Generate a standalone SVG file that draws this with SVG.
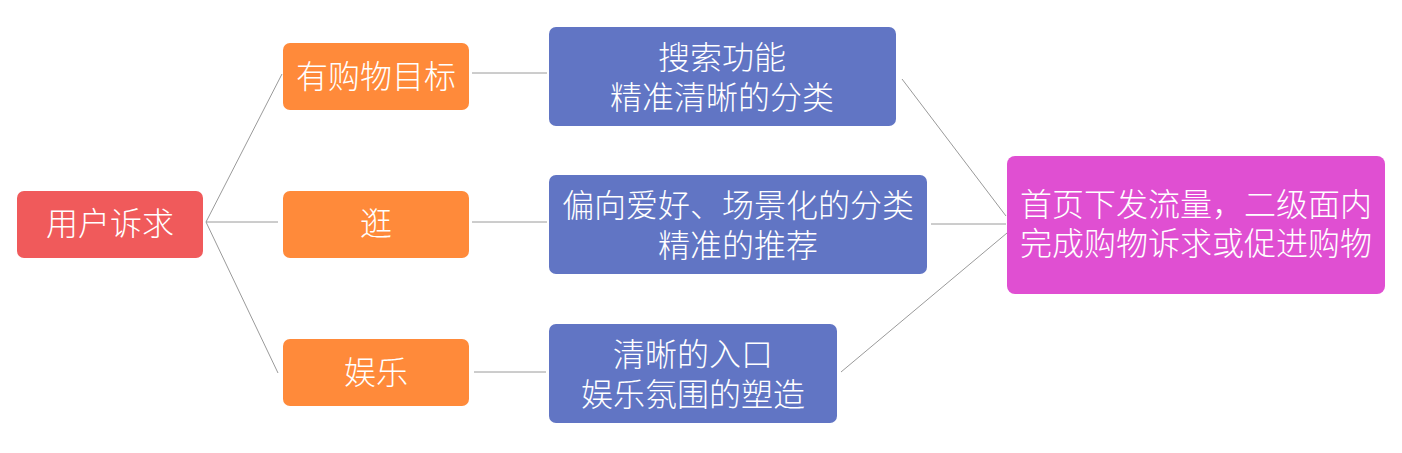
<svg xmlns="http://www.w3.org/2000/svg" width="1402" height="453" viewBox="0 0 1402 453">
<style>
.t{font-family:"Noto Sans CJK SC","Noto Sans",sans-serif;font-size:32px;font-weight:300;fill:#ffffff;text-anchor:middle}
.c{stroke:#9a9a9a;stroke-width:1;fill:none}
.root{fill:#F05A5B}
.or{fill:#FF8A3A}
.bl{fill:#6175C4}
.pk{fill:#E04FD2}
</style>
<rect width="1402" height="453" fill="#ffffff"/>
<g id="connectors">
<line class="c" x1="206" y1="222" x2="282" y2="74"/>
<line class="c" x1="206" y1="222" x2="278" y2="222"/>
<line class="c" x1="206" y1="222" x2="278" y2="373"/>
<line class="c" x1="472" y1="73" x2="547" y2="73"/>
<line class="c" x1="472" y1="222" x2="547" y2="222"/>
<line class="c" x1="474" y1="372" x2="546" y2="372"/>
<line class="c" x1="902" y1="79" x2="1006" y2="216"/>
<line class="c" x1="931" y1="224" x2="1006" y2="224"/>
<line class="c" x1="841" y1="372" x2="1007" y2="233"/>
</g>
<g id="root">
<rect class="root" x="17" y="191" width="186" height="67" rx="7"/>
<text class="t" x="110" y="235">用户诉求</text>
</g>
<g id="goal">
<rect class="or" x="283" y="43" width="186" height="67" rx="7"/>
<text class="t" x="376" y="88">有购物目标</text>
</g>
<g id="browse">
<rect class="or" x="283" y="191" width="186" height="67" rx="7"/>
<text class="t" x="376" y="235">逛</text>
</g>
<g id="fun">
<rect class="or" x="283" y="339" width="186" height="67" rx="7"/>
<text class="t" x="376" y="384">娱乐</text>
</g>
<g id="search">
<rect class="bl" x="549" y="27" width="347" height="99" rx="7"/>
<text class="t" x="722" y="69">搜索功能<tspan x="722" dy="40">精准清晰的分类</tspan></text>
</g>
<g id="recommend">
<rect class="bl" x="549" y="175" width="378" height="99" rx="7"/>
<text class="t" x="738" y="217">偏向爱好、场景化的分类<tspan x="738" dy="40">精准的推荐</tspan></text>
</g>
<g id="entertain">
<rect class="bl" x="549" y="324" width="288" height="99" rx="7"/>
<text class="t" x="693" y="366">清晰的入口<tspan x="693" dy="40">娱乐氛围的塑造</tspan></text>
</g>
<g id="result">
<rect class="pk" x="1007" y="156" width="378" height="138" rx="8"/>
<text class="t" x="1196" y="216">首页下发流量，二级面内<tspan x="1196" dy="39">完成购物诉求或促进购物</tspan></text>
</g>
</svg>
